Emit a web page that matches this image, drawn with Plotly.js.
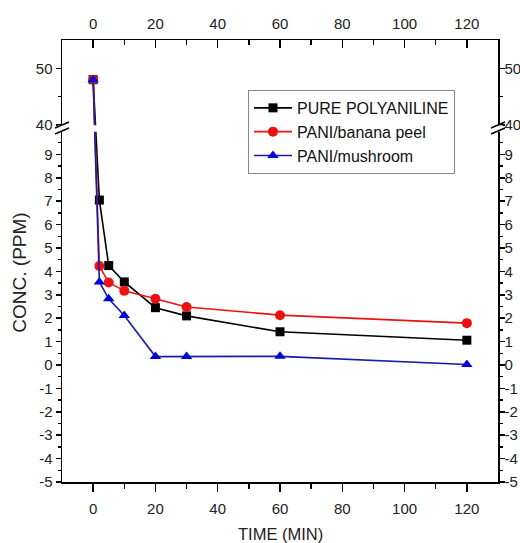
<!DOCTYPE html>
<html>
<head>
<meta charset="utf-8">
<script src="https://cdn.plot.ly/plotly-3.0.1.min.js"></script>
<style>html,body{margin:0;padding:0;background:#fff;}#chart{width:520px;height:543px;}</style>
</head>
<body>
<div id="chart"></div>
<script>
// ---- data ----
const time = [0, 2, 5, 10, 20, 30, 60, 120];
const pure = [48, 7.05, 4.25, 3.55, 2.45, 2.1, 1.42, 1.06];
const banana = [48, 4.23, 3.53, 3.17, 2.83, 2.48, 2.13, 1.79];
const mushroom = [48, 3.55, 2.83, 2.12, 0.36, 0.36, 0.37, 0.02];
const seriesNames = ['PURE POLYANILINE', 'PANI/banana peel', 'PANI/mushroom'];
const yMajorLow = [-5, -4, -3, -2, -1, 0, 1, 2, 3, 4, 5, 6, 7, 8, 9];
const yMajorHigh = [40, 50];
const yMinorLow = [-4.5, -3.5, -2.5, -1.5, -0.5, 0.5, 1.5, 2.5, 3.5, 4.5, 5.5, 6.5, 7.5, 8.5, 9.5];
const yMinorHigh = [45];
const xTicks = [0, 20, 40, 60, 80, 100, 120];
const xMinor = [10, 30, 50, 70, 90, 110];

// ---- broken y axis: lower segment [-5,10], upper segment [40,55] compressed ----
const LOW_MIN = -5, LOW_MAX = 10, UP_MIN = 40, UP_MAX = 55;
const GAP = 0.256;     // gap between segments (lower-axis units)
const K = 0.2423;      // upper-segment scale relative to lower segment
function tr(v) { return v <= LOW_MAX ? v : LOW_MAX + GAP + (v - UP_MIN) * K; }
const yTop = tr(UP_MAX);

const yTickVals = yMajorLow.concat(yMajorHigh).map(tr);
const yTickText = yMajorLow.concat(yMajorHigh).map(String);
const yMinorVals = yMinorLow.concat(yMinorHigh).map(tr);

const font = 'Liberation Sans, Arial, sans-serif';

const traces = [
  {x: time, y: pure.map(tr), name: seriesNames[0], mode: 'lines+markers',
   line: {color: '#000000', width: 1.6}, marker: {symbol: 'square', size: 9, color: '#000000'},
   xaxis: 'x', yaxis: 'y', cliponaxis: false},
  {x: time, y: banana.map(tr), name: seriesNames[1], mode: 'lines+markers',
   line: {color: '#ee1111', width: 1.6}, marker: {symbol: 'circle', size: 10, color: '#ee1111'},
   xaxis: 'x', yaxis: 'y', cliponaxis: false},
  {x: time, y: mushroom.map(tr), name: seriesNames[2], mode: 'lines+markers',
   line: {color: '#1a1aa6', width: 1.6}, marker: {symbol: 'triangle-up', size: 10, color: '#0000dd'},
   xaxis: 'x2', yaxis: 'y2', cliponaxis: false}
];

const xCommon = {range: [-10, 130], tickvals: xTicks, ticktext: xTicks.map(String),
  showline: true, linecolor: '#000', linewidth: 1.5, showgrid: false, zeroline: false,
  tickcolor: '#000', tickwidth: 1.5, ticklen: 8, ticklabelstandoff: 4,
  tickfont: {family: font, size: 15, color: '#222'}};
const yCommon = {range: [LOW_MIN, yTop], tickvals: yTickVals, ticktext: yTickText,
  showline: true, linecolor: '#000', linewidth: 1.5, showgrid: false, zeroline: false,
  ticks: 'outside', tickcolor: '#000', tickwidth: 1.5, ticklen: 5,
  tickfont: {family: font, size: 15, color: '#222'},
  minor: {tickvals: yMinorVals, ticks: 'outside', ticklen: 3, tickwidth: 1.5, tickcolor: '#000', showgrid: false}};

function slash(xp, yv) {
  return {type: 'line', xref: 'paper', yref: 'y', xsizemode: 'pixel', xanchor: xp,
    ysizemode: 'pixel', yanchor: yv, x0: -7, x1: 7, y0: -3, y1: 3,
    line: {color: '#000', width: 1.5}, layer: 'above'};
}

const layout = {
  width: 520, height: 543,
  margin: {l: 62, r: 22, t: 40, b: 61},
  paper_bgcolor: '#fff', plot_bgcolor: '#fff',
  showlegend: true,
  font: {family: font, color: '#222'},
  xaxis: Object.assign({}, xCommon, {side: 'bottom', ticks: 'outside',
    minor: {tickvals: xMinor, ticks: 'outside', ticklen: 5, tickwidth: 1.5, tickcolor: '#000', showgrid: false}}),
  xaxis2: Object.assign({}, xCommon, {side: 'top', overlaying: 'x', anchor: 'y', ticks: 'inside',
    minor: {tickvals: xMinor, ticks: 'inside', ticklen: 5, tickwidth: 1.5, tickcolor: '#000', showgrid: false}}),
  yaxis: Object.assign({}, yCommon, {side: 'left', anchor: 'x', ticklabelstandoff: 0}),
  yaxis2: Object.assign({}, yCommon, {side: 'right', overlaying: 'y', anchor: 'x2', ticklabelstandoff: -3}),
  legend: {x: 0.4266, y: 0.887, xanchor: 'left', yanchor: 'top',
    bgcolor: '#fff', bordercolor: '#888', borderwidth: 1, itemwidth: 38,
    font: {family: font, size: 16, color: '#111'}, tracegroupgap: 0},
  shapes: [
    {type: 'rect', xref: 'paper', yref: 'y', x0: -0.01, x1: 1.01, y0: tr(LOW_MAX) - 0.03, y1: tr(UP_MIN) - 0.01,
     fillcolor: '#fff', line: {width: 0}, layer: 'above'},
    slash(0, tr(LOW_MAX)), slash(0, tr(UP_MIN)),
    slash(1, tr(LOW_MAX)), slash(1, tr(UP_MIN))
  ],
  annotations: [
    {text: 'CONC. (PPM)', xref: 'paper', yref: 'paper', x: -0.097, y: 0.473, textangle: -90,
     xanchor: 'center', yanchor: 'middle',
     showarrow: false, font: {family: font, size: 19, color: '#222'}},
    {text: 'TIME (MIN)', xref: 'paper', yref: 'paper', x: 0.5, y: -0.1176,
     xanchor: 'center', yanchor: 'middle',
     showarrow: false, font: {family: font, size: 16.5, color: '#222'}}
  ]
};

traces.forEach((t, i) => { t.legendgroup = 'g' + i; });

Plotly.newPlot('chart', traces, layout, {staticPlot: true, displayModeBar: false});
</script>
</body>
</html>
